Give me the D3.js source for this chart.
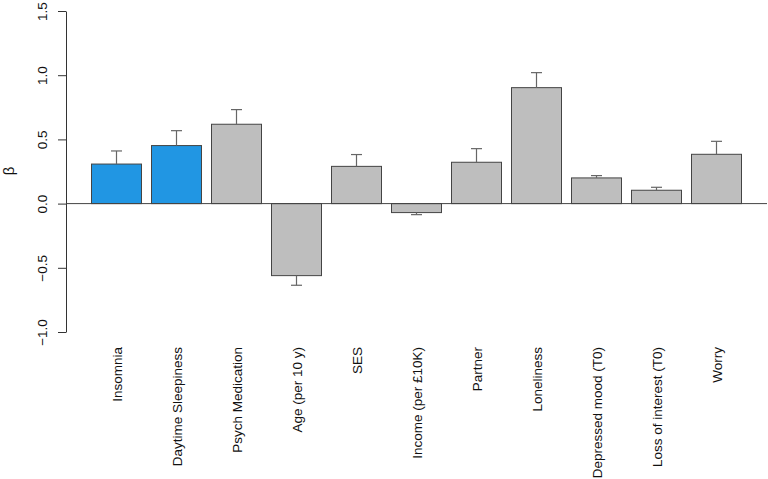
<!DOCTYPE html>
<html lang="en">
<head>
    <meta charset="UTF-8">
    <title>Beta coefficients</title>
    <style>
        body { margin: 0; background: #fff; font-family: "Liberation Sans", Arial, sans-serif; }
        #chart { width: 768px; height: 479px; }
    </style>
</head>
<body>
    <div id="chart"></div>
    <script src="https://d3js.org/d3.v7.min.js"></script>
    <script>
        // data
        const categories = ['Insomnia', 'Daytime Sleepiness', 'Psych Medication', 'Age (per 10 y)', 'SES',
                            'Income (per \u00a310K)', 'Partner', 'Loneliness', 'Depressed mood (T0)',
                            'Loss of interest (T0)', 'Worry'];
        const betas = [0.308, 0.452, 0.618, -0.561, 0.29, -0.07, 0.322, 0.903, 0.20, 0.104, 0.384];
        const errorEnds = [0.41, 0.568, 0.732, -0.636, 0.382, -0.086, 0.428, 1.02, 0.218, 0.127, 0.485];
        const highlighted = ['Insomnia', 'Daytime Sleepiness'];
        const yTicks = [-1.0, -0.5, 0.0, 0.5, 1.0, 1.5];

        const width = 768, height = 479;

        const svg = d3.select('#chart')
                      .append('svg')
                      .attr('width', width)
                      .attr('height', height);

        const x = d3.scaleBand()
                    .domain(categories)
                    .range([86.5, 746.5])
                    .paddingInner(1 / 6)
                    .paddingOuter(1 / 12);

        const y = d3.scaleLinear()
                    .domain([-1, 1.5])
                    .range([332, 11]);

        // y axis, labels parallel to the axis like R
        const yAxis = svg.append('g')
                         .attr('transform', 'translate(66,0)')
                         .call(d3.axisLeft(y).tickValues(yTicks).tickSize(8).tickSizeOuter(0)
                                 .tickFormat(d3.format('.1f')));
        yAxis.select('.domain').attr('stroke', '#333');
        yAxis.selectAll('.tick line').attr('stroke', '#333');
        yAxis.selectAll('.tick text')
             .attr('x', null).attr('dy', null)
             .attr('transform', 'translate(-19,0) rotate(-90)')
             .attr('text-anchor', 'middle')
             .attr('fill', '#111')
             .style('font-size', '13.5px')
             .style('font-family', '"Liberation Sans", Arial, sans-serif');

        svg.append('text')
           .attr('transform', 'translate(14,171) rotate(-90)')
           .attr('text-anchor', 'middle')
           .attr('fill', '#111')
           .style('font-size', '15px')
           .text('\u03b2');

        // bars
        svg.selectAll('.bar')
           .data(categories)
           .enter()
           .append('rect')
           .attr('class', 'bar')
           .attr('x', d => x(d))
           .attr('width', x.bandwidth())
           .attr('y', (d, i) => y(Math.max(0, betas[i])))
           .attr('height', (d, i) => Math.abs(y(betas[i]) - y(0)))
           .attr('fill', d => highlighted.includes(d) ? '#2196e3' : '#bebebe')
           .attr('stroke', '#444')
           .attr('stroke-width', 1);

        // error bars (one-sided, away from zero)
        const err = svg.selectAll('.err')
                       .data(categories)
                       .enter()
                       .append('g')
                       .attr('class', 'err')
                       .attr('stroke', '#666')
                       .attr('stroke-width', 1.2);
        err.append('line')
           .attr('x1', d => x(d) + x.bandwidth() / 2)
           .attr('x2', d => x(d) + x.bandwidth() / 2)
           .attr('y1', (d, i) => y(betas[i]))
           .attr('y2', (d, i) => y(errorEnds[i]));
        err.append('line')
           .attr('x1', d => x(d) + x.bandwidth() / 2 - 5.5)
           .attr('x2', d => x(d) + x.bandwidth() / 2 + 5.5)
           .attr('y1', (d, i) => y(errorEnds[i]))
           .attr('y2', (d, i) => y(errorEnds[i]));

        // zero line
        svg.append('line')
           .attr('x1', 66).attr('x2', 767)
           .attr('y1', y(0)).attr('y2', y(0))
           .attr('stroke', '#444');

        // category labels, rotated
        svg.selectAll('.cat')
           .data(categories)
           .enter()
           .append('text')
           .attr('class', 'cat')
           .attr('transform', d => 'translate(' + (x(d) + x.bandwidth() / 2 + 5) + ',347) rotate(-90)')
           .attr('text-anchor', 'end')
           .attr('fill', '#111')
           .style('font-size', '13.5px')
           .text(d => d);
    </script>
</body>
</html>
